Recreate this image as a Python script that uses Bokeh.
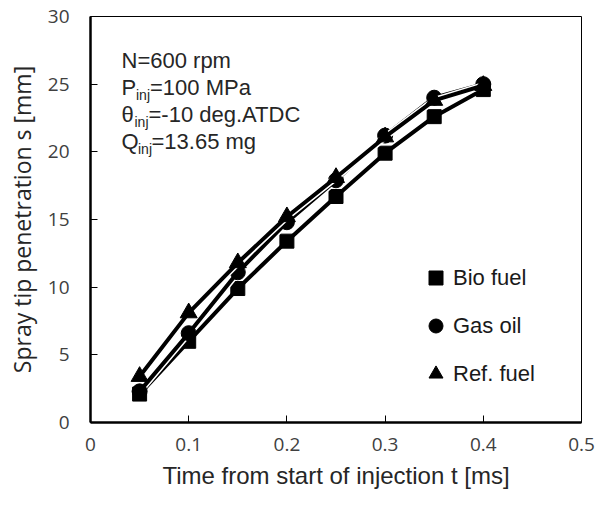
from bokeh.plotting import figure
from bokeh.models import Label, Legend, LegendItem, FixedTicker, Range1d
from bokeh.embed import file_html
from bokeh.resources import INLINE

# ---- data ----
time_ms = [0.05, 0.10, 0.15, 0.20, 0.25, 0.30, 0.35, 0.40]
bio_fuel = [2.1, 6.0, 9.9, 13.4, 16.7, 19.9, 22.6, 24.6]
gas_oil = [2.3, 6.6, 11.1, 14.8, 17.9, 21.2, 24.0, 25.0]
ref_fuel = [3.4, 8.1, 11.8, 15.2, 18.1, 21.1, 23.8, 24.9]
series_names = ["Bio fuel", "Gas oil", "Ref. fuel"]
series_markers = ["square", "circle", "triangle"]
x_ticks = [0, 0.1, 0.2, 0.3, 0.4, 0.5]
x_tick_labels = ["0", "0.1", "0.2", "0.3", "0.4", "0.5"]
y_ticks = [0, 5, 10, 15, 20, 25, 30]
y_tick_labels = ["0", "5", "10", "15", "20", "25", "30"]

p = figure(width=596, height=491, x_range=Range1d(0, 0.5), y_range=Range1d(0, 30),
           output_backend="svg", toolbar_location=None,
           min_border_left=90, min_border_right=15, min_border_top=16, min_border_bottom=69)
p.xgrid.visible = False
p.ygrid.visible = False
p.outline_line_color = "black"
p.outline_line_width = 1
p.background_fill_color = "white"
p.border_fill_color = "white"

for ax in (p.xaxis[0], p.yaxis[0]):
    ax.axis_line_width = 2.5
    ax.axis_line_color = "black"
    ax.major_tick_in = 7
    ax.major_tick_out = 0
    ax.major_tick_line_color = "black"
    ax.major_tick_line_width = 1
    ax.minor_tick_line_color = None
    ax.major_label_text_font = "Open Sans"
    ax.major_label_text_font_size = "19px"
    ax.major_label_text_color = "#404040"
    ax.axis_label_text_font_style = "normal"
    ax.axis_label_text_color = "#262626"

p.xaxis.ticker = FixedTicker(ticks=x_ticks)
p.xaxis.major_label_overrides = {t: l for t, l in zip(x_ticks, x_tick_labels)}
p.yaxis.ticker = FixedTicker(ticks=y_ticks)
p.yaxis.major_label_overrides = {t: l for t, l in zip(y_ticks, y_tick_labels)}
p.xaxis.major_label_standoff = 15
p.yaxis.major_label_standoff = 21
p.xaxis.axis_label = "Time from start of injection t [ms]"
p.xaxis.axis_label_text_font = "Liberation Sans"
p.xaxis.axis_label_text_font_size = "24px"
p.xaxis.axis_label_standoff = 8
p.yaxis.axis_label = "Spray tip penetration s [mm]"
p.yaxis.axis_label_text_font = "Open Sans"
p.yaxis.axis_label_text_font_size = "23px"
p.yaxis.axis_label_standoff = 7

items = []
sizes = {"square": 14, "circle": 15, "triangle": 17}
for name, marker, vals in zip(series_names, series_markers, [bio_fuel, gas_oil, ref_fuel]):
    p.line(time_ms, vals, line_color="white", line_width=7)
    p.line(time_ms, vals, line_color="black", line_width=4)
    r = p.scatter(time_ms, vals, marker=marker, size=sizes[marker],
                  fill_color="black", line_color="black")
    items.append(LegendItem(label=name, renderers=[r]))

legend = Legend(items=items, location=(328, 31), orientation="vertical",
                glyph_width=35, glyph_height=35, label_height=35, spacing=13,
                padding=0, margin=0, label_standoff=0,
                border_line_color=None, background_fill_alpha=0,
                label_text_font="Liberation Sans", label_text_font_size="22px",
                label_text_color="#1a1a1a")
p.add_layout(legend, "center")

fnt = "Liberation Sans"
col = "#262626"
def lab(x, y, t, size="22px"):
    p.add_layout(Label(x=x, y=y, x_units="screen", y_units="screen", text=t,
                       text_font=fnt, text_font_size=size, text_color=col,
                       text_baseline="alphabetic", text_align="left"))

lab(31, 362, "N=600 rpm")
lab(31, 335, "P")
lab(45.5, 328, "inj", "14px")
lab(59.5, 335, "=100 MPa")
lab(31, 308, "θ")
lab(44, 301, "inj", "14px")
lab(58, 308, "=-10 deg.ATDC")
lab(31, 281, "Q")
lab(47.5, 274, "inj", "14px")
lab(61, 281, "=13.65 mg")

open("out.html", "w").write(file_html(p, INLINE))
